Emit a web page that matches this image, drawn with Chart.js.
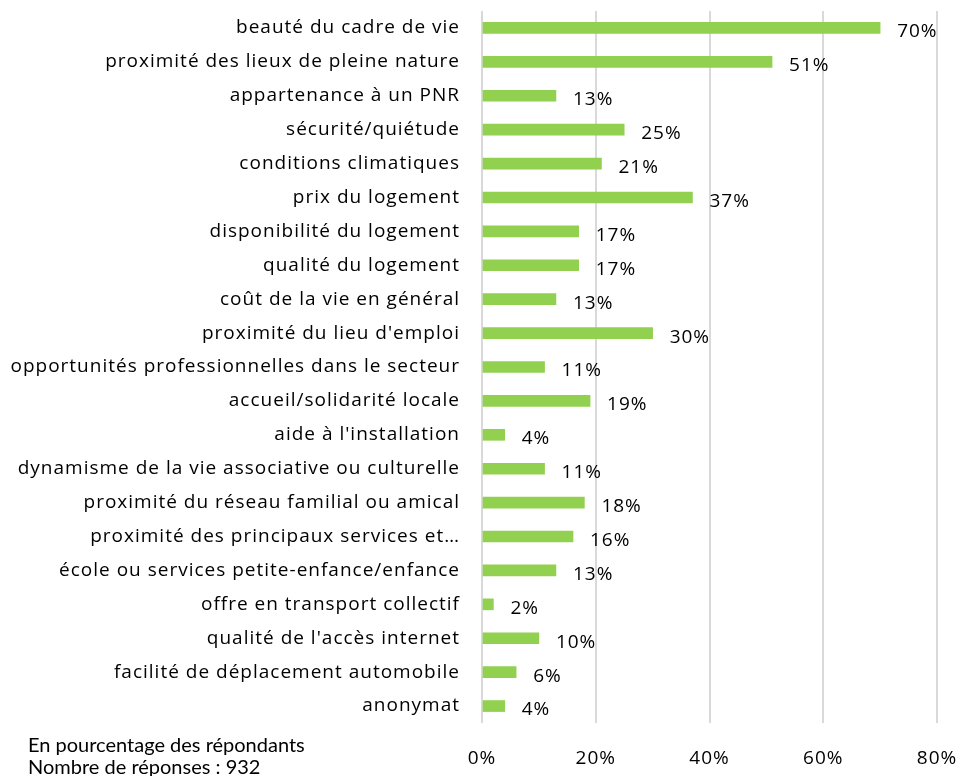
<!DOCTYPE html>
<html>
<head>
<meta charset="utf-8">
<script src="https://cdn.jsdelivr.net/npm/chart.js@4/dist/chart.umd.min.js"></script>
<style>
  html, body { margin: 0; padding: 0; background: #fff; }
  #wrap { position: relative; width: 959px; height: 776px; }
  #footer { position: absolute; left: 28px; top: 733px; font-family: Lato, 'Open Sans', sans-serif; font-size: 20px; line-height: 22px; color: #000; }
</style>
</head>
<body>
<div id="wrap">
  <canvas id="c" width="959" height="776"></canvas>
  <div id="footer">En pourcentage des répondants<br>Nombre de réponses : 932</div>
</div>
<script>
const categories = [
  "beauté du cadre de vie",
  "proximité des lieux de pleine nature",
  "appartenance à un PNR",
  "sécurité/quiétude",
  "conditions climatiques",
  "prix du logement",
  "disponibilité du logement",
  "qualité du logement",
  "coût de la vie en général",
  "proximité du lieu d'emploi",
  "opportunités professionnelles dans le secteur",
  "accueil/solidarité locale",
  "aide à l'installation",
  "dynamisme de la vie associative ou culturelle",
  "proximité du réseau familial ou amical",
  "proximité des principaux services et…",
  "école ou services petite-enfance/enfance",
  "offre en transport collectif",
  "qualité de l'accès internet",
  "facilité de déplacement automobile",
  "anonymat"
];
const values = [70, 51, 13, 25, 21, 37, 17, 17, 13, 30, 11, 19, 4, 11, 18, 16, 13, 2, 10, 6, 4];
const xTicks = [0, 20, 40, 60, 80];

const FONT = "'Open Sans', Lato, sans-serif";

const spacing = {
  id: 'spacing',
  beforeUpdate(chart) { chart.ctx.letterSpacing = '1px'; },
  beforeDraw(chart) { chart.ctx.letterSpacing = '1px'; }
};

const valueLabels = {
  id: 'valueLabels',
  afterDatasetsDraw(chart) {
    const ctx = chart.ctx;
    const meta = chart.getDatasetMeta(0);
    ctx.save();
    ctx.font = "19px " + FONT;
    ctx.fillStyle = "#000";
    ctx.textAlign = "left";
    ctx.textBaseline = "middle";
    meta.data.forEach((bar, i) => {
      ctx.fillText(values[i] + "%", bar.x + 17, bar.y + 4);
    });
    ctx.restore();
  }
};

new Chart(document.getElementById('c'), {
  type: 'bar',
  data: {
    labels: categories,
    datasets: [{
      data: values,
      backgroundColor: '#92D050',
      barThickness: 11
    }]
  },
  options: {
    indexAxis: 'y',
    responsive: false,
    animation: false,
    layout: { padding: 0 },
    plugins: { legend: { display: false }, tooltip: { enabled: false } },
    scales: {
      x: {
        min: 0, max: 80,
        afterBuildTicks(axis) { axis.ticks = xTicks.map(v => ({ value: v })); },
        afterFit(axis) { axis.height = 53; axis.paddingLeft = 0; axis.paddingRight = 22; },
        grid: { color: '#d9d9d9', lineWidth: 2, drawTicks: false },
        border: { display: false },
        ticks: { padding: 24, color: '#000', font: { family: FONT, size: 19 }, callback: v => v + '%' }
      },
      y: {
        afterFit(axis) { axis.width = 482; axis.paddingTop = 11; axis.paddingBottom = 0; },
        grid: { display: false, drawTicks: false },
        border: { display: false },
        ticks: { padding: 22, color: '#000', font: { family: FONT, size: 19 }, autoSkip: false }
      }
    }
  },
  plugins: [spacing, valueLabels]
});
</script>
</body>
</html>
